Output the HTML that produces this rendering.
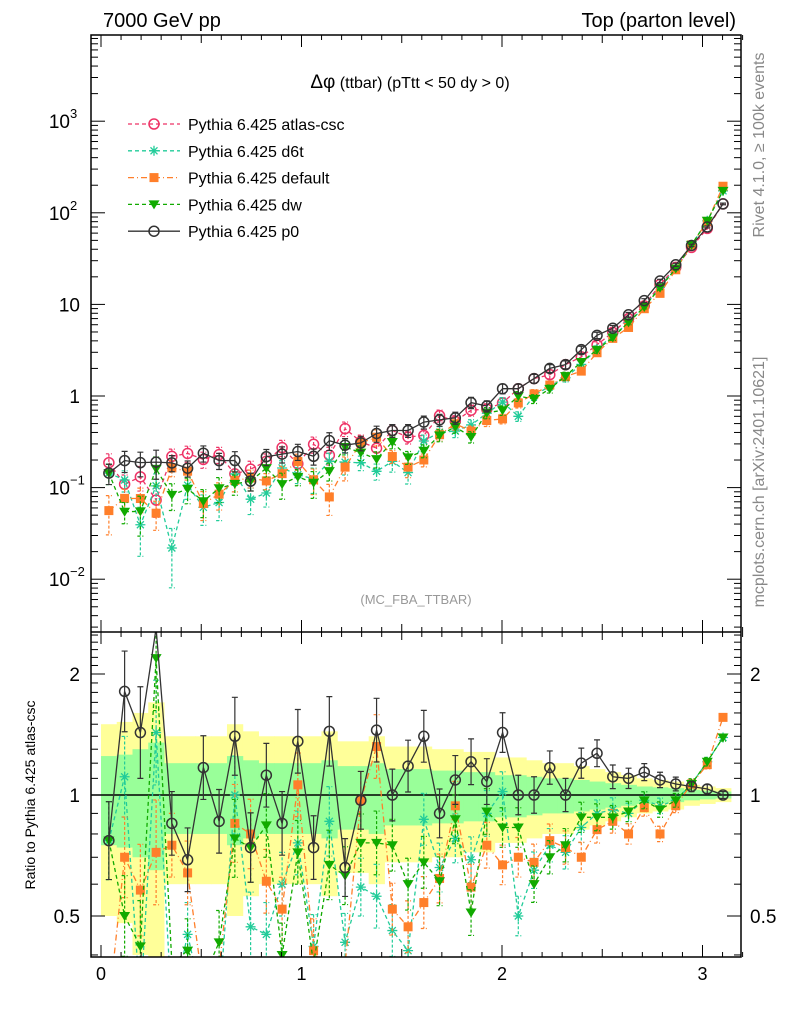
<!DOCTYPE html>
<html><head><meta charset="utf-8"><style>
body{margin:0;background:#fff;width:786px;height:1024px;overflow:hidden}
svg{font-family:"Liberation Sans",sans-serif;display:block}
</style></head><body>
<svg id="c" width="786" height="1024" overflow="hidden" xmlns="http://www.w3.org/2000/svg">
<defs>
<clipPath id="cm"><rect x="91" y="35" width="650" height="597"/></clipPath>
<clipPath id="cr"><rect x="91" y="632" width="650" height="325"/></clipPath>
</defs>
<text x="103" y="27" font-size="20">7000 GeV pp</text>
<text x="736" y="27" font-size="20" text-anchor="end">Top (parton level)</text>
<text x="410" y="88" font-size="16" text-anchor="middle"><tspan font-size="19">Δφ</tspan> (ttbar) (pTtt &lt; 50 dy &gt; 0)</text>
<text x="416" y="604" font-size="13" fill="#999" text-anchor="middle">(MC_FBA_TTBAR)</text>
<text transform="translate(764,145) rotate(-90)" font-size="16" fill="#888" text-anchor="middle">Rivet 4.1.0, ≥ 100k events</text>
<text transform="translate(764,482) rotate(-90)" font-size="16" fill="#888" text-anchor="middle">mcplots.cern.ch [arXiv:2401.10621]</text>
<text transform="translate(35,795) rotate(-90)" font-size="14" text-anchor="middle">Ratio to Pythia 6.425 atlas-csc</text>
<g id="bands" clip-path="url(#cr)"></g>
<g id="main" clip-path="url(#cm)"></g>
<g id="ratio" clip-path="url(#cr)"></g>
<g id="axes"></g>
<g id="legend"></g>
</svg>
<script>
const NS="http://www.w3.org/2000/svg";
const nb=40;
const atlasVals=[.187,.109,.131,.073,.219,.236,.203,.229,.141,.159,.194,.273,.182,.297,.226,.44,.317,.269,.42,.356,.371,.61,.53,.70,.72,.84,1.2,1.55,1.71,2.2,2.67,3.62,4.95,7.0,9.65,16.5,25.4,41.9,67.6,125];
const relErr=[.25,.26,.3,.35,.2,.2,.2,.2,.25,.22,.2,.2,.2,.2,.22,.18,.18,.2,.16,.16,.16,.15,.15,.14,.14,.12,.12,.11,.1,.1,.09,.08,.07,.06,.05,.045,.04,.03,.025,.02];
const ratioP0=[.77,1.81,1.43,2.6,.85,.69,1.17,.86,1.40,.74,1.12,.85,1.36,.74,1.44,.66,.97,1.45,1.0,1.18,1.40,.90,1.09,1.21,1.08,1.43,1.0,1.0,1.17,1.0,1.20,1.27,1.11,1.10,1.14,1.09,1.065,1.05,1.035,1.0];
const ratioDefault=[.3,.70,.58,.72,.75,.64,.33,.37,.85,.80,.61,.52,1.06,.41,.35,.38,.97,1.32,.52,.47,.54,.62,.94,.59,.75,.67,.70,.68,.77,.74,.70,.82,.86,.80,.93,.80,.94,1.065,1.19,1.56];
const ratioDw=[.77,.50,.42,2.19,.38,.41,.35,.43,.78,.74,.84,.40,.72,.38,.67,.63,.76,.76,.75,.60,.68,.61,.87,.51,.91,.83,.83,.60,.70,.75,.88,.88,.88,.91,.97,.92,.97,1.065,1.21,1.39];
const ratioD6t=[.77,1.11,.3,1.43,.1,.45,.3,.3,1.0,.47,.45,.60,.76,.42,.86,.43,.59,.56,.46,.41,.87,.66,.78,.69,.90,1.02,.50,.65,.75,.72,.83,.90,.92,.90,.97,.94,.97,1.065,1.21,1.39];
const xTicks=[0,1,2,3];
const yMainTicks=[{v:1e-2,l:"10",e:"−2"},{v:.1,l:"10",e:"−1"},{v:1,l:"1"},{v:10,l:"10"},{v:100,l:"10",e:"2"},{v:1000,l:"10",e:"3"}];
const yRatioTicks=[0.5,1,2];

const clampY=y=>Math.max(600,Math.min(1010,y));
const X=v=>101+200.5*v;
const YM=v=>396-91.6*Math.log10(v);
const YR=r=>clampY(795-121*Math.log2(r));
const bw=Math.PI/nb;
const cx=i=>(i+.5)*bw;
function mk(tag,attrs,parent){const e=document.createElementNS(NS,tag);for(const k in attrs)e.setAttribute(k,attrs[k]);parent.appendChild(e);return e;}
const gMain=document.getElementById('main'),gR=document.getElementById('ratio'),gB=document.getElementById('bands'),gA=document.getElementById('axes'),gL=document.getElementById('legend');

for(let i=0;i<nb;i++){
  const e=relErr[i];
  const y1=mk('rect',{x:X(i*bw),width:X((i+1)*bw)-X(i*bw)+.5,y:YR(1+2*e),height:Math.min(957,YR(Math.max(1-2*e,.3)))-YR(1+2*e),fill:'#ffff99'},gB);
  
}
for(let i=0;i<nb;i++){
  const e=relErr[i];
  const g=mk('rect',{x:X(i*bw),width:X((i+1)*bw)-X(i*bw)+.5,y:YR(1+e),height:YR(1-e)-YR(1+e),fill:'#99ff99'},gB);
  
}
const ul=mk('line',{x1:91,x2:741,y1:YR(1),y2:YR(1),stroke:'#000','stroke-width':1.5},gB);


const series=[
 {name:'atlas-csc',ratio:atlasVals.map(()=>1),color:'#ee3366',dash:'4,3',marker:'ocircle'},
 {name:'d6t',ratio:ratioD6t,color:'#22cc99',dash:'4,3',marker:'star'},
 {name:'default',ratio:ratioDefault,color:'#ff7f2a',dash:'6,3,1,3',marker:'square'},
 {name:'dw',ratio:ratioDw,color:'#11aa00',dash:'4,3',marker:'tri'},
 {name:'p0',ratio:ratioP0,color:'#333333',dash:'',marker:'ocircle'}
];
function marker(g,type,x,y,c){
  let e;
  if(type==='ocircle')e=mk('circle',{cx:x,cy:y,r:5,fill:'none',stroke:c,'stroke-width':1.5},g);
  else if(type==='square')e=mk('rect',{x:x-4.5,y:y-4.5,width:9,height:9,fill:c},g);
  else if(type==='tri')e=mk('path',{d:`M${x-5.5},${y-4} L${x+5.5},${y-4} L${x},${y+5} Z`,fill:c},g);
  else{e=mk('path',{d:`M${x-5},${y}H${x+5}M${x},${y-5}V${y+5}M${x-3.5},${y-3.5}L${x+3.5},${y+3.5}M${x-3.5},${y+3.5}L${x+3.5},${y-3.5}`,stroke:c,'stroke-width':1.3},g);}
  return e;
}
function drawSeries(s,g,Y,vals,part){
  const sg=mk('g',{},g);
  
  
  const pts=vals.map((v,i)=>X(cx(i)).toFixed(1)+','+Y(v).toFixed(1)).join(' ');
  mk('polyline',{points:pts,fill:'none',stroke:s.color,'stroke-width':1.3,'stroke-dasharray':s.dash},sg);
  vals.forEach((v,i)=>{
    let e=relErr[i]*(s.name==='atlas-csc'&&part==='ratio'?0:1);
    if(s.ratio[i]<0.5&&part==='main')e*=1/Math.sqrt(s.ratio[i]);
    const x=X(cx(i));
    const lo=Math.max(v*(1-Math.min(e,0.75)),v*0.2);
    const y=Y(v);
    if(part==='ratio'&&(y<632||y>957))return;
    if(e>0){mk('path',{d:`M${x},${Y(v*(1+e))}V${Y(part==='main'?lo:v/(1+e))}M${x-3},${Y(v*(1+e))}H${x+3}M${x-3},${Y(part==='main'?lo:v/(1+e))}H${x+3}`,stroke:s.color,'stroke-width':1.2,'stroke-dasharray':s.dash?'3,2':''},sg);}
    const m=marker(sg,s.marker,x,y,s.color);
    
    
  });
}
series.forEach(s=>{
  const mainVals=atlasVals.map((a,i)=>a*s.ratio[i]);
  drawSeries(s,gMain,YM,mainVals,'main');
  if(s.name!=='atlas-csc')drawSeries(s,gR,YR,s.ratio,'ratio');
});

mk('rect',{x:91,y:35,width:650,height:922,fill:'none',stroke:'#000','stroke-width':1.5},gA);
mk('line',{x1:91,x2:741,y1:632,y2:632,stroke:'#000','stroke-width':1.5},gA);
for(let k=0;k<=32;k++){
  const v=k/10,x=X(v),maj=k%10===0,len=maj?12:(k%5===0?8:5);
  mk('line',{x1:x,x2:x,y1:957,y2:957-len,stroke:'#000'},gA);
  mk('line',{x1:x,x2:x,y1:632,y2:632-len,stroke:'#000'},gA);
  mk('line',{x1:x,x2:x,y1:35,y2:35+len,stroke:'#000'},gA);
  mk('line',{x1:x,x2:x,y1:632,y2:632+len,stroke:'#000'},gA);
}
xTicks.forEach(v=>{const t=mk('text',{x:X(v),y:980,'font-size':18,'text-anchor':'middle'},gA);t.textContent=v;
});
for(let d=-3;d<=3;d++)for(let m=1;m<10;m++){
  const v=m*Math.pow(10,d),y=YM(v);if(y<35||y>632)continue;
  const len=m===1?14:7;
  mk('line',{x1:91,x2:91+len,y1:y,y2:y,stroke:'#000'},gA);
  mk('line',{x1:741,x2:741-len,y1:y,y2:y,stroke:'#000'},gA);
}
yMainTicks.forEach(t=>{
  const tx=mk('text',{x:t.e?70:80,y:YM(t.v)+7,'font-size':19,'text-anchor':'end'},gA);
  tx.textContent=t.l;
  
  if(t.e){const s=mk('text',{x:70,y:YM(t.v)-3,'font-size':13},gA);s.textContent=t.e;}
});
[0.4,0.5,0.6,0.7,0.8,0.9,1,1.1,1.2,1.3,1.4,1.5,1.6,1.7,1.8,1.9,2,2.1,2.2,2.3,2.4,2.5].forEach(v=>{
  const y=YR(v);if(y<632||y>957)return;
  const len=(v===0.5||v===1||v===2)?14:7;
  mk('line',{x1:91,x2:91+len,y1:y,y2:y,stroke:'#000'},gA);
  mk('line',{x1:741,x2:741-len,y1:y,y2:y,stroke:'#000'},gA);
});
yRatioTicks.forEach(v=>{
  const a=mk('text',{x:80,y:YR(v)+7,'font-size':19,'text-anchor':'end'},gA);a.textContent=v;
  
  const b=mk('text',{x:750,y:YR(v)+7,'font-size':19},gA);b.textContent=v;
});
const legNames=['Pythia 6.425 atlas-csc','Pythia 6.425 d6t','Pythia 6.425 default','Pythia 6.425 dw','Pythia 6.425 p0'];
series.forEach((s,i)=>{
  const y=124+26.8*i;
  const g=mk('g',{},gL);
  
  
  mk('line',{x1:128,x2:180,y1:y,y2:y,stroke:s.color,'stroke-width':1.3,'stroke-dasharray':s.dash},g);
  marker(g,s.marker,154,y,s.color);
  const t=mk('text',{x:188,y:y+6,'font-size':16},g);t.textContent=legNames[i];
});
</script>
</body></html>
